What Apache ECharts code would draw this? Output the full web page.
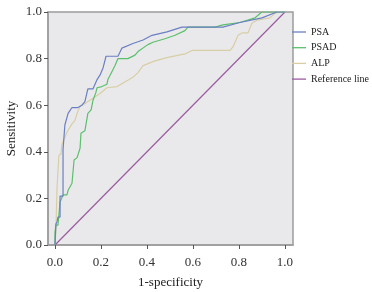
<!DOCTYPE html>
<html>
<head>
<meta charset="utf-8">
<script src="https://cdn.jsdelivr.net/npm/echarts@6/dist/echarts.min.js"></script>
<style>
  html, body { margin: 0; padding: 0; background: #fff; }
  #myChart { width: 372px; height: 292px; }
</style>
</head>
<body>
<div id="myChart"></div>
<script>
// ROC points: 1-specificity / sensitivity
const psaFpr = [0, 0.004, 0.009, 0.013, 0.022, 0.022, 0.035, 0.035, 0.043, 0.057, 0.074, 0.1, 0.117, 0.13, 0.143, 0.165, 0.183, 0.196, 0.209, 0.222, 0.274, 0.291, 0.339, 0.383, 0.422, 0.487, 0.552, 0.73, 0.804, 0.9, 0.965, 1]
const psaTpr = [0, 0.09, 0.1, 0.12, 0.12, 0.21, 0.21, 0.41, 0.515, 0.565, 0.59, 0.59, 0.6, 0.615, 0.67, 0.67, 0.71, 0.73, 0.76, 0.81, 0.81, 0.845, 0.865, 0.88, 0.9, 0.915, 0.935, 0.935, 0.955, 0.975, 1, 1]

const psadFpr = [0, 0, 0.004, 0.013, 0.022, 0.035, 0.052, 0.057, 0.074, 0.078, 0.083, 0.096, 0.109, 0.113, 0.13, 0.143, 0.157, 0.165, 0.178, 0.183, 0.204, 0.226, 0.23, 0.248, 0.261, 0.274, 0.317, 0.348, 0.361, 0.404, 0.426, 0.478, 0.522, 0.565, 0.578, 0.696, 0.73, 0.804, 0.87, 0.9, 1]
const psadTpr = [0, 0.055, 0.085, 0.085, 0.185, 0.215, 0.215, 0.235, 0.265, 0.31, 0.365, 0.375, 0.415, 0.48, 0.49, 0.565, 0.58, 0.62, 0.655, 0.675, 0.68, 0.69, 0.71, 0.745, 0.77, 0.8, 0.8, 0.815, 0.83, 0.86, 0.87, 0.885, 0.9, 0.92, 0.935, 0.935, 0.945, 0.955, 0.975, 1, 1]

const alpFpr = [0, 0.004, 0.009, 0.013, 0.017, 0.026, 0.03, 0.035, 0.052, 0.074, 0.087, 0.096, 0.109, 0.135, 0.165, 0.196, 0.226, 0.27, 0.313, 0.339, 0.361, 0.383, 0.435, 0.491, 0.565, 0.596, 0.761, 0.774, 0.796, 0.813, 0.839, 0.857, 0.878, 0.935, 0.957, 0.978, 1]
const alpTpr = [0, 0.065, 0.25, 0.25, 0.385, 0.39, 0.43, 0.43, 0.485, 0.52, 0.535, 0.565, 0.595, 0.61, 0.63, 0.65, 0.675, 0.68, 0.705, 0.72, 0.74, 0.77, 0.79, 0.805, 0.82, 0.835, 0.835, 0.85, 0.9, 0.91, 0.91, 0.953, 0.965, 0.975, 0.995, 1, 1]

const refFpr = [0, 1]
const refTpr = [0, 1]

const seriesNames = ['PSA', 'PSAD', 'ALP', 'Reference line']
const tickValues = [0, 0.2, 0.4, 0.6, 0.8, 1.0]

const font = 'Liberation Serif'
const pairs = (xs, ys) => xs.map((x, i) => [x, ys[i]])

const chart = echarts.init(document.getElementById('myChart'))

chart.setOption({
  animation: false,
  grid: {
    left: 48,
    right: 79,
    top: 12,
    bottom: 47,
    outerBoundsMode: 'none',
    show: true,
    backgroundColor: '#e9e9eb',
    borderColor: '#9c9c9c',
    borderWidth: 1.5,
  },
  legend: {
    orient: 'vertical',
    left: 292,
    top: 25,
    padding: 0,
    icon: 'rect',
    itemWidth: 14,
    itemHeight: 1.3,
    itemGap: 1.7,
    data: seriesNames,
    textStyle: {
      fontFamily: font,
      fontSize: 10,
      lineHeight: 14,
      color: '#222',
    },
  },
  xAxis: {
    type: 'value',
    min: -0.0304,
    max: 1.035,
    name: '1-specificity',
    nameLocation: 'middle',
    nameGap: 31,
    nameMoveOverlap: false,
    nameTextStyle: { fontFamily: font, fontSize: 13, color: '#222' },
    axisLine: { onZero: false, lineStyle: { color: '#9c9c9c', width: 1.5 } },
    axisTick: { show: true, length: 4, customValues: tickValues, lineStyle: { color: '#555' } },
    axisLabel: {
      customValues: tickValues,
      formatter: v => v.toFixed(1),
      margin: 11,
      fontFamily: font,
      fontSize: 13,
      color: '#333',
    },
    splitLine: { show: false },
  },
  yAxis: {
    type: 'value',
    min: 0,
    max: 1,
    interval: 0.2,
    name: 'Sensitivity',
    nameLocation: 'middle',
    nameGap: 30,
    nameMoveOverlap: false,
    nameTextStyle: { fontFamily: font, fontSize: 13, color: '#222' },
    axisLine: { show: true, onZero: false, lineStyle: { color: '#9c9c9c', width: 1.5 } },
    axisTick: { show: true, length: 4, lineStyle: { color: '#555' } },
    axisLabel: {
      formatter: v => v.toFixed(1),
      margin: 6,
      fontFamily: font,
      fontSize: 13,
      color: '#333',
    },
    splitLine: { show: false },
  },
  series: [{
    name: 'PSA',
    type: 'line',
    showSymbol: false,
    symbol: 'none',
    lineStyle: { width: 1.2, color: '#6b7fc3' },
    itemStyle: { color: '#6b7fc3' },
    data: pairs(psaFpr, psaTpr),
    z: 4,
  },
  {
    name: 'PSAD',
    type: 'line',
    showSymbol: false,
    symbol: 'none',
    lineStyle: { width: 1.2, color: '#5cbf6c' },
    itemStyle: { color: '#5cbf6c' },
    data: pairs(psadFpr, psadTpr),
    z: 3,
  },
  {
    name: 'ALP',
    type: 'line',
    showSymbol: false,
    symbol: 'none',
    lineStyle: { width: 1.2, color: '#d8cea6' },
    itemStyle: { color: '#d8cea6' },
    data: pairs(alpFpr, alpTpr),
    z: 2,
  },
  {
    name: 'Reference line',
    type: 'line',
    showSymbol: false,
    symbol: 'none',
    lineStyle: { width: 1.2, color: '#9b5ba0' },
    itemStyle: { color: '#9b5ba0' },
    data: pairs(refFpr, refTpr),
    z: 1,
  }],
})
</script>
</body>
</html>
